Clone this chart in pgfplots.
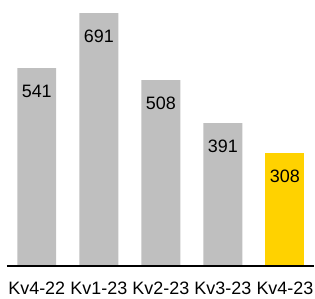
\documentclass[border=0pt]{standalone}
\usepackage{pgfplots}
\pgfplotsset{compat=1.18}
\usepackage{fontspec}
\setmainfont{Liberation Sans}
\definecolor{bargray}{HTML}{BFBFBF}
\definecolor{baryellow}{HTML}{FFD200}
\begin{document}
\begin{tikzpicture}
\begin{axis}[
  name=ax,
  scale only axis,
  width=308bp, height=267bp,
  xmin=-0.48, xmax=4.47,
  ymin=0, ymax=727,
  axis lines*=left,
  axis line style={draw=none},
  ytick=\empty,
  xtick={0,1,2,3,4},
  xticklabels={Kv4-22,Kv1-23,Kv2-23,Kv3-23,Kv4-23},
  major tick length=0pt,
  xticklabel style={font=\fontsize{18bp}{21bp}\selectfont, anchor=base, yshift=-28.5bp, inner sep=0pt},
  ybar, bar width=0.627, bar shift=0pt,
  clip=false,
  nodes near coords,
  /pgf/number format/assume math mode=true,
  every node near coord/.append style={font=\fontsize{18bp}{21bp}\selectfont, anchor=base, yshift=-29.5bp, black},
]
\addplot[fill=bargray, draw=none] coordinates {(0,541) (1,691) (2,508) (3,391)};
\addplot[fill=baryellow, draw=none] coordinates {(4,308)};
\end{axis}
\draw[line width=1.8bp, black] (ax.south west) -- (ax.south east);
\path ([xshift=-7bp]ax.north west) rectangle ([yshift=-32bp]ax.south east);
\end{tikzpicture}
\end{document}
